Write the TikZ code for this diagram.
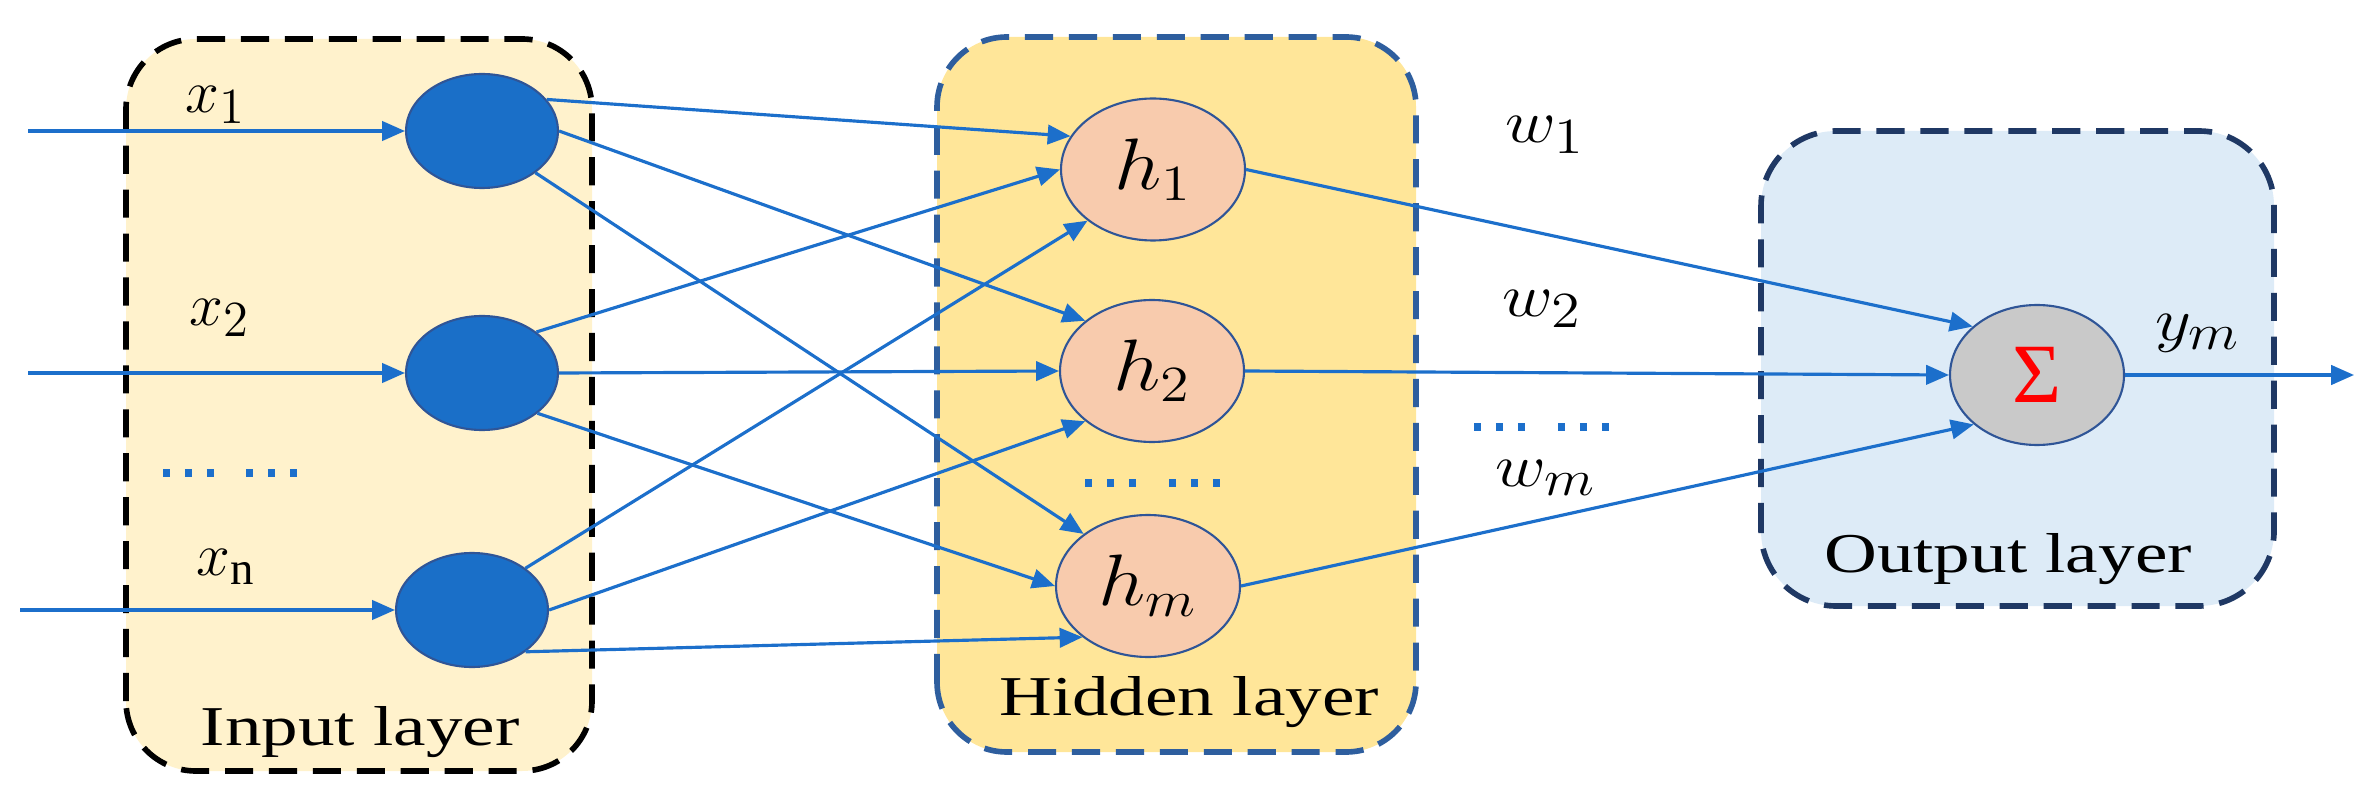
\documentclass[tikz,border=0pt]{standalone}
\usepackage{fontspec}
\setmainfont{Liberation Serif}
\usepackage{graphicx}
\usetikzlibrary{arrows.meta,shapes.geometric}

\definecolor{edgeblue}{HTML}{1C6FCB}
\definecolor{nodeblue}{HTML}{1A6FC8}
\definecolor{nodeline}{HTML}{2F5597}
\definecolor{inputfill}{HTML}{FFF2CC}
\definecolor{hiddenfill}{HTML}{FFE699}
\definecolor{outputfill}{HTML}{DDEBF7}
\definecolor{hiddenline}{HTML}{2E5E9E}
\definecolor{outputline}{HTML}{1F3864}
\definecolor{peach}{HTML}{F8CBAD}
\definecolor{sumgray}{HTML}{C9C9C9}

\newcommand{\widetext}[1]{\scalebox{1.3}[1]{#1}}
\newcommand{\widemath}[1]{\scalebox{1.15}[1]{$#1$}}

\tikzset{
  layerbox/.style={line width=1.6pt, dash pattern=on 8pt off 4.5pt, rounded corners=0.7cm},
  inputnode/.style={ellipse, draw=nodeline, line width=0.6pt, fill=nodeblue,
    minimum width=1.52cm, minimum height=1.14cm, inner sep=0pt},
  hiddennode/.style={ellipse, draw=nodeline, line width=0.6pt, fill=peach,
    minimum width=1.84cm, minimum height=1.42cm, inner sep=0pt,
    font=\fontsize{20}{24}\selectfont},
  sumnode/.style={ellipse, draw=nodeline, line width=0.6pt, fill=sumgray,
    minimum width=1.74cm, minimum height=1.40cm, inner sep=0pt,
    font=\fontsize{24}{28}\selectfont},
  link/.style={-{Triangle[length=6.5pt,width=5.5pt]}, edgeblue, line width=0.9pt},
  dotrow/.style={edgeblue, line width=2pt, dash pattern=on 2pt off 4.25pt},
  mathlabel/.style={inner sep=0pt, font=\fontsize{19}{22}\selectfont},
  layertext/.style={inner sep=0pt, anchor=base, font=\fontsize{16}{19}\selectfont}
}

\begin{document}
\begin{tikzpicture}
\useasboundingbox (0,0) rectangle (23.68,8.08);

\draw[layerbox, fill=inputfill, draw=black] (1.26,0.37) rectangle (5.92,7.69);
\draw[layerbox, fill=hiddenfill, draw=hiddenline] (9.37,0.56) rectangle (14.16,7.71);
\draw[layerbox, fill=outputfill, draw=outputline, rounded corners=0.75cm] (17.61,2.02) rectangle (22.74,6.77);

\node[inputnode] (xa) at (4.82,6.77) {};
\node[inputnode] (xb) at (4.82,4.35) {};
\node[inputnode] (xn) at (4.72,1.98) {};

\node[hiddennode] (ha) at (11.53,6.385) {\widemath{h_1}};
\node[hiddennode] (hb) at (11.52,4.37) {\widemath{h_2}};
\node[hiddennode] (hm) at (11.48,2.22) {\widemath{h_m}};

\node[sumnode] (sum) at (20.37,4.33) {\textcolor{red}{Σ}};

\coordinate (ina) at (0.28,6.77);
\coordinate (inb) at (0.28,4.35);
\coordinate (inn) at (0.20,1.98);
\coordinate (yout) at (23.54,4.33);

\node[mathlabel] (lxa) at (2.16,7.03) {$x_1$};
\node[mathlabel] (lxb) at (2.20,4.90) {$x_2$};
\node[mathlabel] (lxn) at (2.26,2.41) {$x_{\mathrm{n}}$};

\node[mathlabel] (lwa) at (15.45,6.73) {\widemath{w_1}};
\node[mathlabel] (lwb) at (15.42,4.99) {\widemath{w_2}};
\node[mathlabel] (lwm) at (15.46,3.30) {\widemath{w_m}};
\node[mathlabel] (lym) at (21.98,4.75) {\widemath{y_m}};

\node[layertext] (tin) at (3.60,0.63) {\widetext{Input layer}};
\node[layertext] (thid) at (11.89,0.93) {\widetext{Hidden layer}};
\node[layertext] (tout) at (20.08,2.36) {\widetext{Output layer}};

\draw[dotrow] (1.63,3.35) -- (2.14,3.35);
\draw[dotrow] (2.46,3.35) -- (2.97,3.35);
\draw[dotrow] (10.85,3.25) -- (11.36,3.25);
\draw[dotrow] (11.69,3.25) -- (12.20,3.25);
\draw[dotrow] (14.74,3.81) -- (15.25,3.81);
\draw[dotrow] (15.58,3.81) -- (16.09,3.81);

\draw[link] (ina) -- (xa.180);
\draw[link] (inb) -- (xb.180);
\draw[link] (inn) -- (xn.180);

\draw[link] (xa.26) -- (ha.158);
\draw[link] (xa.0) -- (hb.143);
\draw[link] (xa.322) -- (hm.141);
\draw[link] (xb.37) -- (ha.180);
\draw[link] (xb.0) -- (hb.180);
\draw[link] (xb.324) -- (hm.180);
\draw[link] (xn.38) -- (ha.218);
\draw[link] (xn.0) -- (hb.217);
\draw[link] (xn.322) -- (hm.218);

\draw[link] (ha.0) -- (sum.143);
\draw[link] (hb.0) -- (sum.180);
\draw[link] (hm.0) -- (sum.218);
\draw[link] (sum.0) -- (yout);
\end{tikzpicture}
\end{document}
